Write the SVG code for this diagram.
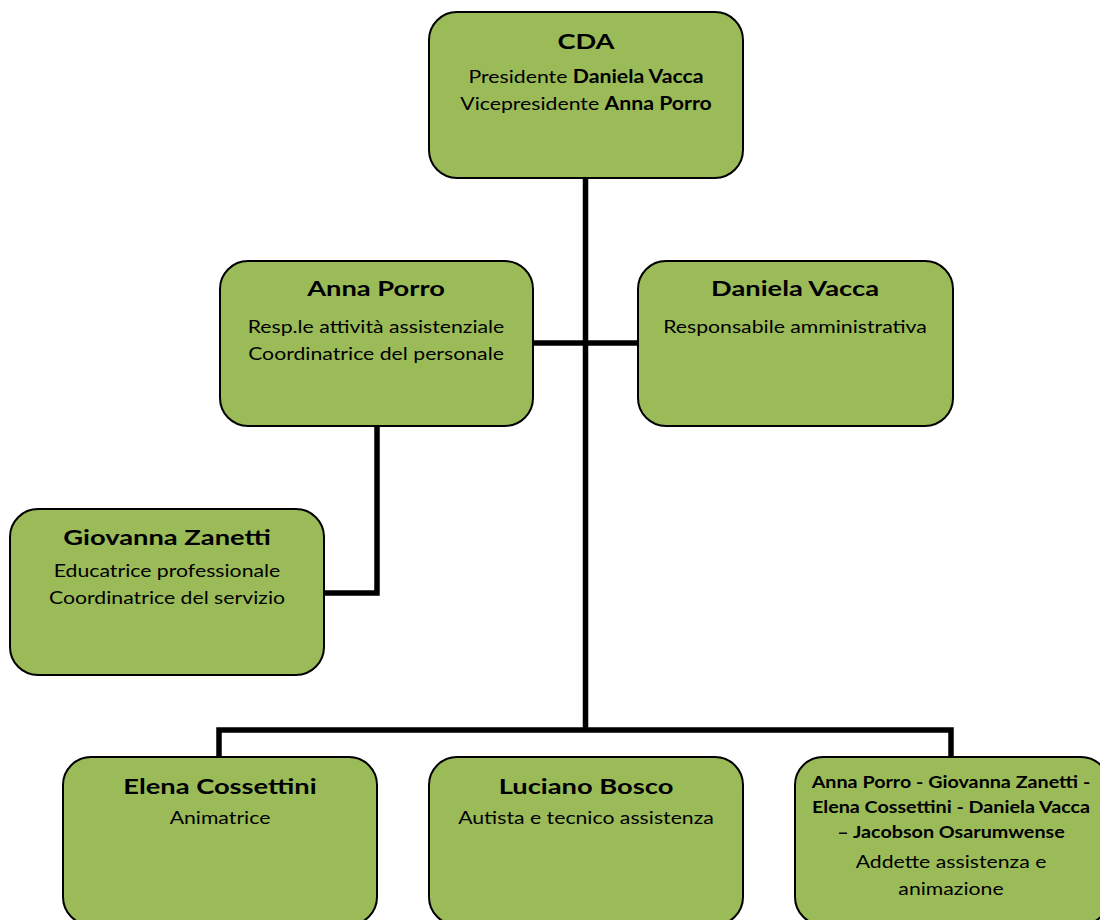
<svg xmlns="http://www.w3.org/2000/svg" width="1100" height="920" viewBox="0 0 1100 920">
<style>
.box{fill:#9BBB59;stroke:#000;stroke-width:2}
.t{font-family:Lato,"Liberation Sans",sans-serif;font-weight:bold;font-size:21px;fill:#000;text-anchor:middle}
.b{font-family:Lato,"Liberation Sans",sans-serif;font-size:18px;fill:#000;text-anchor:middle}
.s{font-family:Lato,"Liberation Sans",sans-serif;font-weight:bold;font-size:17px;fill:#000;text-anchor:middle}
.bb{font-weight:bold}
.c{fill:none;stroke:#000;stroke-width:5.5}
</style>
<rect width="1100" height="920" fill="#fff"/>
<g id="connectors">
<path class="c" d="M585.5 178 V730"/>
<path class="c" d="M533 343 H638"/>
<path class="c" d="M377 426 V593 H324"/>
<path class="c" d="M219 757 V730 H951 V757"/>
</g>
<g id="cda">
<rect class="box" x="429" y="12" width="314" height="166" rx="28"/>
<text class="t" transform="translate(586 49) scale(1.3 1)">CDA</text>
<text class="b" transform="translate(586 83) scale(1.18 1)">Presidente <tspan class="bb">Daniela Vacca</tspan></text>
<text class="b" transform="translate(586 110) scale(1.18 1)">Vicepresidente <tspan class="bb">Anna Porro</tspan></text>
</g>
<g id="anna">
<rect class="box" x="220" y="261" width="313" height="165" rx="28"/>
<text class="t" transform="translate(376 296) scale(1.3 1)">Anna Porro</text>
<text class="b" transform="translate(376 333) scale(1.18 1)">Resp.le attività assistenziale</text>
<text class="b" transform="translate(376 360) scale(1.18 1)">Coordinatrice del personale</text>
</g>
<g id="daniela">
<rect class="box" x="638" y="261" width="315" height="165" rx="28"/>
<text class="t" transform="translate(795 296) scale(1.3 1)">Daniela Vacca</text>
<text class="b" transform="translate(795 333) scale(1.18 1)">Responsabile amministrativa</text>
</g>
<g id="giovanna">
<rect class="box" x="10" y="509" width="314" height="166" rx="28"/>
<text class="t" transform="translate(167 545) scale(1.3 1)">Giovanna Zanetti</text>
<text class="b" transform="translate(167 577) scale(1.18 1)">Educatrice professionale</text>
<text class="b" transform="translate(167 604) scale(1.18 1)">Coordinatrice del servizio</text>
</g>
<g id="elena">
<rect class="box" x="63" y="757" width="314" height="168" rx="28"/>
<text class="t" transform="translate(220 794) scale(1.3 1)">Elena Cossettini</text>
<text class="b" transform="translate(220 824) scale(1.18 1)">Animatrice</text>
</g>
<g id="luciano">
<rect class="box" x="429" y="757" width="314" height="168" rx="28"/>
<text class="t" transform="translate(586 794) scale(1.3 1)">Luciano Bosco</text>
<text class="b" transform="translate(586 824) scale(1.18 1)">Autista e tecnico assistenza</text>
</g>
<g id="addette">
<rect class="box" x="795" y="757" width="314" height="168" rx="28"/>
<text class="s" transform="translate(951 788) scale(1.16 1)">Anna Porro - Giovanna Zanetti -</text>
<text class="s" transform="translate(951 813) scale(1.16 1)">Elena Cossettini - Daniela Vacca</text>
<text class="s" transform="translate(951 838) scale(1.16 1)">– Jacobson Osarumwense</text>
<text class="b" transform="translate(951 868) scale(1.18 1)">Addette assistenza e</text>
<text class="b" transform="translate(951 895) scale(1.18 1)">animazione</text>
</g>
</svg>
